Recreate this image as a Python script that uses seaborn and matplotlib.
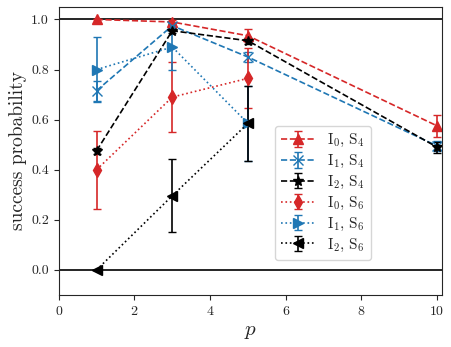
import matplotlib
matplotlib.use("Agg")
import matplotlib.pyplot as plt
import seaborn as sns

p_s4 = [1, 3, 5, 10]
p_s6 = [1, 3, 5]

i0_s4 = [1.00, 0.99, 0.935, 0.575]
i0_s4_err = [0.0, 0.008, 0.025, 0.045]
i1_s4 = [0.716, 0.975, 0.85, 0.495]
i1_s4_err = [0.04, 0.01, 0.02, 0.02]
i2_s4 = [0.476, 0.955, 0.915, 0.49]
i2_s4_err = [0.012, 0.01, 0.012, 0.022]

i0_s6 = [0.40, 0.69, 0.765]
i0_s6_err = [0.155, 0.14, 0.12]
i1_s6 = [0.80, 0.89, 0.585]
i1_s6_err = [0.13, 0.09, 0.15]
i2_s6 = [0.0, 0.296, 0.585]
i2_s6_err = [0.0, 0.145, 0.15]

labels = [r"$\mathrm{I}_0$, $\mathrm{S}_4$", r"$\mathrm{I}_1$, $\mathrm{S}_4$",
          r"$\mathrm{I}_2$, $\mathrm{S}_4$", r"$\mathrm{I}_0$, $\mathrm{S}_6$",
          r"$\mathrm{I}_1$, $\mathrm{S}_6$", r"$\mathrm{I}_2$, $\mathrm{S}_6$"]

sns.set_style("ticks")
plt.rcParams["font.family"] = "serif"
plt.rcParams["font.serif"] = ["cmr10"]
plt.rcParams["mathtext.fontset"] = "cm"
plt.rcParams["axes.formatter.use_mathtext"] = True
plt.rcParams["axes.unicode_minus"] = False

red = "#d62728"
blue = "#1f77b4"

fig, ax = plt.subplots(figsize=(4.52, 3.47), dpi=100)

ax.axhline(1.0, color="black", lw=1.2, zorder=1)
ax.axhline(0.0, color="black", lw=1.2, zorder=1)

series = [
    (p_s4, i0_s4, i0_s4_err, red, "^", "--"),
    (p_s4, i1_s4, i1_s4_err, blue, "x", "--"),
    (p_s4, i2_s4, i2_s4_err, "black", "*", "--"),
    (p_s6, i0_s6, i0_s6_err, red, "d", ":"),
    (p_s6, i1_s6, i1_s6_err, blue, ">", ":"),
    (p_s6, i2_s6, i2_s6_err, "black", "<", ":"),
]
for (x, y, e, c, m, ls), lab in zip(series, labels):
    ax.errorbar(x, y, yerr=e, color=c, marker=m, ls=ls, ms=7, lw=1.2,
                capsize=3, elinewidth=1.2, label=lab)

ax.set_xlim(0, 10.13)
ax.set_ylim(-0.1, 1.05)
ax.set_yticks([0.0, 0.2, 0.4, 0.6, 0.8, 1.0])
ax.set_yticklabels(["0.0", "0.2", "0.4", "0.6", "0.8", "1.0"])
ax.set_xticks([0, 2, 4, 6, 8, 10])
ax.tick_params(labelsize=10)
ax.set_xlabel(r"$p$", fontsize=15)
ax.set_ylabel("success probability", fontsize=14, labelpad=3)
for s in ax.spines.values():
    s.set_visible(True)

ax.legend(loc="lower left", bbox_to_anchor=(0.545, 0.095), fontsize=11,
          handlelength=2.2, labelspacing=0.25, borderpad=0.4)

fig.subplots_adjust(left=0.13, right=0.978, top=0.98, bottom=0.15)
fig.savefig("out.png", dpi=100)
